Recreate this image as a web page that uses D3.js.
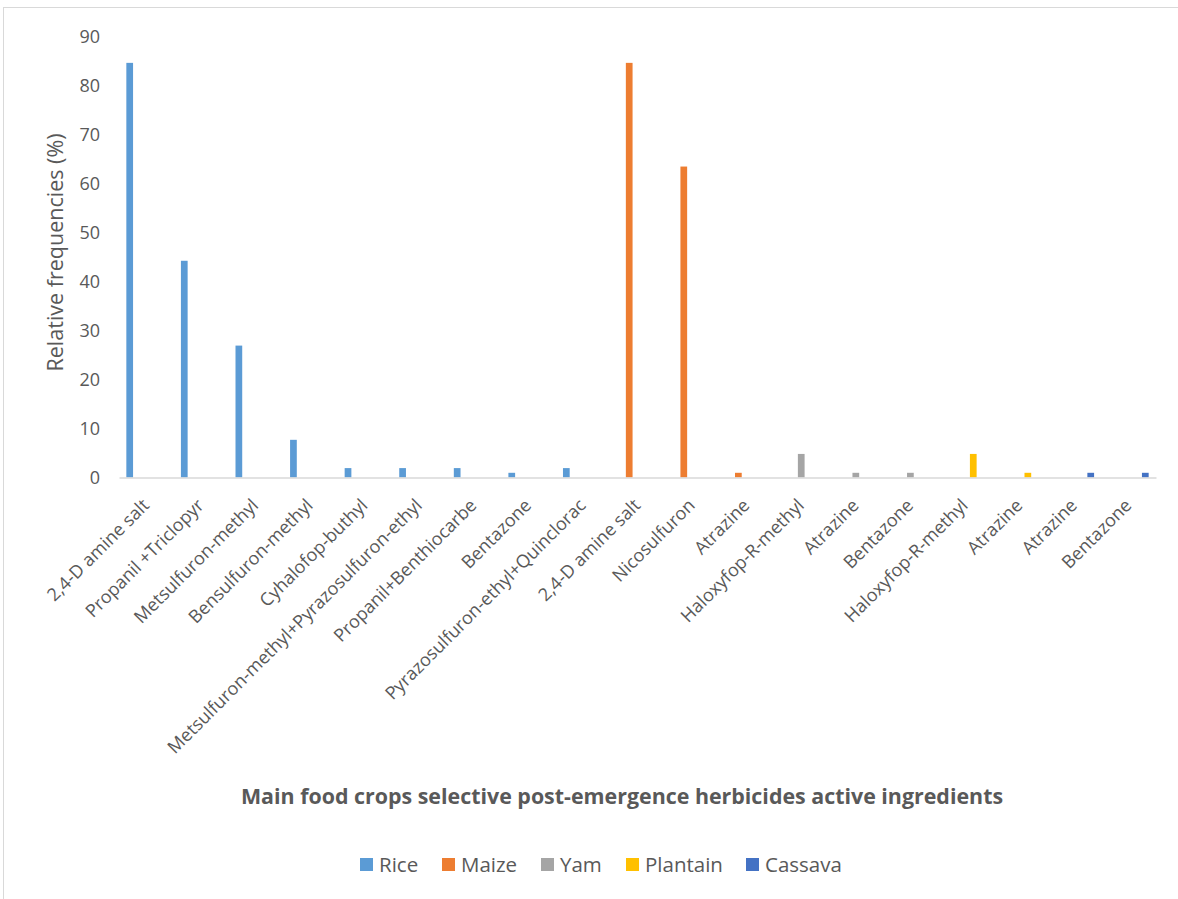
<!DOCTYPE html>
<html>
<head>
<meta charset="utf-8">
<script src="https://cdn.jsdelivr.net/npm/d3@7"></script>
<style>
  html, body { margin: 0; padding: 0; background: #fff; }
  svg { display: block; font-family: "Open Sans", "Lato", sans-serif; }
</style>
</head>
<body>
<svg id="chart" width="1178" height="899"></svg>
<script>
// Herbicide active ingredients per crop (relative frequencies, %)
const categories = [
  "2,4-D amine salt", "Propanil +Triclopyr", "Metsulfuron-methyl", "Bensulfuron-methyl",
  "Cyhalofop-buthyl", "Metsulfuron-methyl+Pyrazosulfuron-ethyl", "Propanil+Benthiocarbe",
  "Bentazone", "Pyrazosulfuron-ethyl+Quinclorac",
  "2,4-D amine salt", "Nicosulfuron", "Atrazine",
  "Haloxyfop-R-methyl", "Atrazine", "Bentazone",
  "Haloxyfop-R-methyl", "Atrazine",
  "Atrazine", "Bentazone"
];
const seriesNames = ["Rice", "Maize", "Yam", "Plantain", "Cassava"];
const seriesColors = ["#5B9BD5", "#ED7D31", "#A5A5A5", "#FFC000", "#4472C4"];

const rice     = [84.62, 44.23, 26.92, 7.69, 1.92, 1.92, 1.92, 0.96, 1.92, null, null, null, null, null, null, null, null, null, null];
const maize    = [null, null, null, null, null, null, null, null, null, 84.62, 63.46, 0.96, null, null, null, null, null, null, null];
const yam      = [null, null, null, null, null, null, null, null, null, null, null, null, 4.81, 0.96, 0.96, null, null, null, null];
const plantain = [null, null, null, null, null, null, null, null, null, null, null, null, null, null, null, 4.81, 0.96, null, null];
const cassava  = [null, null, null, null, null, null, null, null, null, null, null, null, null, null, null, null, null, 0.96, 0.96];
const seriesValues = [rice, maize, yam, plantain, cassava];

const yTicks = [0, 10, 20, 30, 40, 50, 60, 70, 80, 90];

const svg = d3.select("#chart");
const textColor = "#595959";
const axisColor = "#D9D9D9";

// chart frame
svg.append("rect")
  .attr("x", 3.5).attr("y", 7.5)
  .attr("width", 1200).attr("height", 1000)
  .attr("fill", "none").attr("stroke", axisColor).attr("stroke-width", 1);

const plot = { left: 119, right: 1156, top: 36.5, bottom: 477.5 };

const x0 = d3.scaleBand()
  .domain(d3.range(categories.length))
  .range([plot.left, plot.right])
  .padding(0);

const x1 = d3.scaleBand()
  .domain(seriesNames)
  .range([0, x0.bandwidth()])
  .paddingInner(0.19)
  .paddingOuter(0.885);

const y = d3.scaleLinear().domain([0, 90]).range([plot.bottom, plot.top]);

// bars
const rows = [];
seriesNames.forEach((s, si) => {
  seriesValues[si].forEach((v, ci) => {
    if (v != null) rows.push({ series: s, color: seriesColors[si], ci, v });
  });
});

svg.append("g").selectAll("rect")
  .data(rows)
  .join("rect")
  .attr("x", d => x0(d.ci) + x1(d.series))
  .attr("width", x1.bandwidth())
  .attr("y", d => y(d.v))
  .attr("height", d => y(0) - y(d.v))
  .attr("fill", d => d.color);

// y axis (labels only)
const yAxis = d3.axisLeft(y).tickValues(yTicks).tickSize(0).tickPadding(0);
const gy = svg.append("g")
  .attr("transform", `translate(${plot.left - 19},0)`)
  .call(yAxis);
gy.select(".domain").remove();
gy.selectAll("text")
  .attr("fill", textColor)
  .attr("font-size", 18)
  .attr("font-family", "'Open Sans', sans-serif");

// x axis line and rotated category labels
const xAxis = d3.axisBottom(x0).tickSize(0).tickFormat(i => categories[i]);
const gx = svg.append("g")
  .attr("transform", `translate(0,${plot.bottom})`)
  .call(xAxis);
gx.select(".domain")
  .attr("stroke", axisColor)
  .attr("stroke-width", 1.5);
gx.selectAll(".tick text")
  .attr("fill", textColor)
  .attr("font-size", 18)
  .attr("font-family", "'Open Sans', sans-serif")
  .attr("text-anchor", "end")
  .attr("dy", 0)
  .attr("y", 0)
  .attr("transform", "translate(4,29) rotate(-45)");

// y axis title
svg.append("text")
  .attr("transform", `translate(63,${(130 + 375) / 2}) rotate(-90)`)
  .attr("text-anchor", "middle")
  .attr("fill", textColor)
  .attr("font-size", 21.5)
  .text("Relative frequencies (%)");

// x axis title
svg.append("text")
  .attr("x", 622).attr("y", 804)
  .attr("text-anchor", "middle")
  .attr("fill", textColor)
  .attr("font-size", 21.4)
  .attr("font-weight", "bold")
  .text("Main food crops selective post-emergence herbicides active ingredients");

// legend
const legendX = [360, 442, 541, 626, 746];
const lg = svg.append("g").selectAll("g")
  .data(seriesNames)
  .join("g")
  .attr("transform", (d, i) => `translate(${legendX[i]},858)`);
lg.append("rect")
  .attr("width", 13).attr("height", 13)
  .attr("fill", (d, i) => seriesColors[i]);
lg.append("text")
  .attr("x", 19).attr("y", 6.5).attr("dy", "0.36em")
  .attr("fill", textColor)
  .attr("font-size", 20.5)
  .text(d => d);
</script>
</body>
</html>
